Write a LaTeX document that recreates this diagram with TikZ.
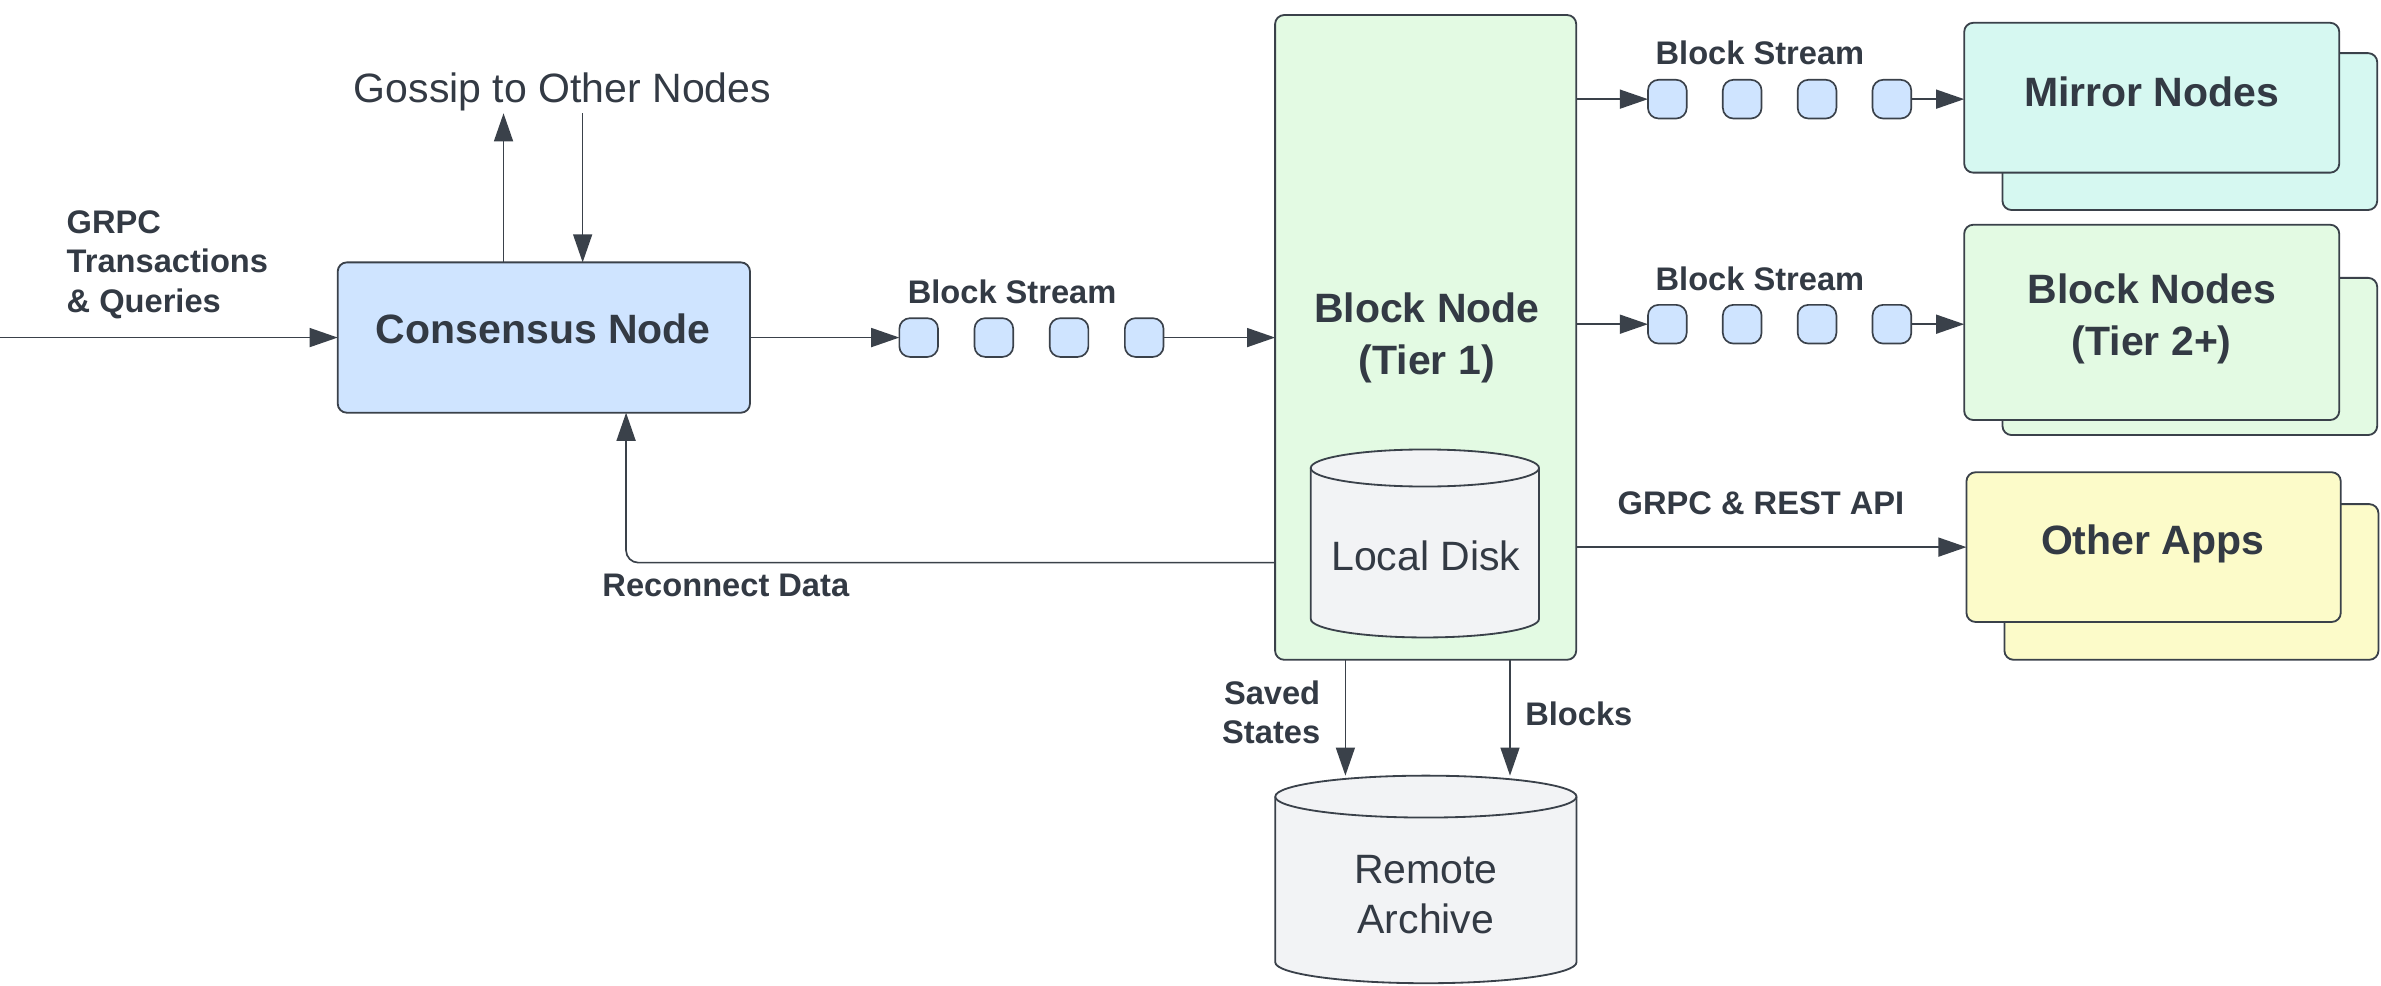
\documentclass[tikz,border=0pt]{standalone}
\usepackage{fontspec}
\setmainfont{Liberation Sans}
\usetikzlibrary{arrows.meta}
\definecolor{ink}{HTML}{3A414A}
\definecolor{txt}{HTML}{333A44}
\definecolor{fblue}{HTML}{CFE4FF}
\definecolor{fgreen}{HTML}{E3FAE3}
\definecolor{fcyan}{HTML}{D6F8F1}
\definecolor{fyellow}{HTML}{FCFBC9}
\definecolor{fgray}{HTML}{F2F3F5}
\begin{document}
\begin{tikzpicture}[x=1pt,y=1pt,
  box/.style={draw=ink, line width=1.2pt, rounded corners=6pt, inner sep=0pt, outer sep=0pt},
  blob/.style={draw=ink, line width=1.1pt, fill=fblue, rounded corners=7pt, minimum width=25.5pt, minimum height=25.5pt, inner sep=0pt, outer sep=0pt},
  arr/.style={draw=ink, line width=1.1pt, -{Triangle[length=18.5pt,width=12.5pt]}},
  cyl/.style={draw=ink, fill=fgray, line width=1.2pt},
  big/.style={text=txt, font=\fontsize{27}{34}\selectfont\bfseries, inner sep=0pt},
  bigr/.style={text=txt, font=\fontsize{27}{33}\selectfont, inner sep=0pt},
  lab/.style={text=txt, font=\fontsize{21.5}{26}\selectfont\bfseries, inner sep=0pt},
  ghost/.style={inner sep=0pt, outer sep=0pt},
]
\useasboundingbox (0,0) rectangle (1568,-649.3);

% main boxes
\node[box, fill=fblue, minimum width=271.5pt, minimum height=99pt] (cn) at (358.15,-222.3) {};
\node[box, fill=fgreen, minimum width=198.3pt, minimum height=424.6pt] (bn) at (938.85,-222.2) {};

% stacked boxes (back then front)
\node[box, fill=fcyan, minimum width=246.8pt, minimum height=103.3pt] (mnb) at (1442.1,-86.65) {};
\node[box, fill=fcyan, minimum width=247pt, minimum height=98.7pt] (mnf) at (1417,-64.35) {};
\node[box, fill=fgreen, minimum width=246.8pt, minimum height=103.5pt] (bnb) at (1442.1,-234.75) {};
\node[box, fill=fgreen, minimum width=247pt, minimum height=128.6pt] (bnf) at (1417,-212.3) {};
\node[box, fill=fyellow, minimum width=246.3pt, minimum height=102.5pt] (oab) at (1443.15,-383.25) {};
\node[box, fill=fyellow, minimum width=246.5pt, minimum height=98.6pt] (oaf) at (1418.25,-360.3) {};

% cylinders
\node[ghost, minimum width=150.3pt, minimum height=123.8pt] (ld) at (938.35,-357.9) {};
\filldraw[cyl] (863.2,-308.2) -- (863.2,-407.6) arc[start angle=180,end angle=360,x radius=75.15pt,y radius=12.2pt] -- (1013.5,-308.2) arc[start angle=0,end angle=180,x radius=75.15pt,y radius=12.2pt] -- cycle;
\draw[cyl, fill=none] (863.2,-308.2) arc[start angle=180,end angle=360,x radius=75.15pt,y radius=12.2pt];

\node[ghost, minimum width=198.4pt, minimum height=136.7pt] (ra) at (939,-579.15) {};
\filldraw[cyl] (839.8,-524.6) -- (839.8,-633.7) arc[start angle=180,end angle=360,x radius=99.2pt,y radius=13.8pt] -- (1038.2,-524.6) arc[start angle=0,end angle=180,x radius=99.2pt,y radius=13.8pt] -- cycle;
\draw[cyl, fill=none] (839.8,-524.6) arc[start angle=180,end angle=360,x radius=99.2pt,y radius=13.8pt];

% stream blobs
\foreach \i/\x in {1/605,2/654.5,3/704,4/753.5}{\node[blob] (s1\i) at (\x,-222.3) {};}
\foreach \i/\x in {1/1098,2/1147.3,3/1196.6,4/1245.9}{\node[blob] (s2\i) at (\x,-65.3) {};}
\foreach \i/\x in {1/1098,2/1147.3,3/1196.6,4/1245.9}{\node[blob] (s3\i) at (\x,-213.5) {};}

% connectors
\coordinate (inL) at (0,-222.3);
\draw[arr] (inL) -- (cn.west);
\coordinate (gu) at (331.6,-74.6);
\coordinate (gd) at (383.7,-74.6);
\draw[arr] (gu |- cn.north) -- (gu);
\draw[arr] (gd) -- (gd |- cn.north);
\draw[arr] (cn.east) -- (s11.west);
\draw[arr] (s14.east) -- (s14.east -| bn.west);
\draw[arr] (s21.west -| bn.east) -- (s21.west);
\draw[arr] (s24.east) -- (s24.east -| mnf.west);
\draw[arr] (s31.west -| bn.east) -- (s31.west);
\draw[arr] (s34.east) -- (s34.east -| bnf.west);
\draw[arr] (oaf.west -| bn.east) -- (oaf.west);
\coordinate (rc) at (412.3,-370.5);
\draw[arr, rounded corners=8pt] (rc -| bn.west) -- (rc) -- (rc |- cn.south);
\coordinate (ssx) at (886,0);
\coordinate (blx) at (994.4,0);
\draw[arr] (ssx |- bn.south) -- (ssx |- ra.north);
\draw[arr] (blx |- bn.south) -- (blx |- ra.north);

% texts
\node[bigr, anchor=base] (gos) at (370.4,-67.6) {Gossip to Other Nodes};
\node[lab, align=left, anchor=west] (grpc) at (43.7,-174.2) {GRPC\\Transactions\\\& Queries};
\node[big, anchor=base] (cnt) at (357.8,-226.1) {Consensus Node};
\node[lab, anchor=base] (bs1) at (666.5,-199.7) {Block Stream};
\node[lab, anchor=base] (bs2) at (1159,-42.8) {Block Stream};
\node[lab, anchor=base] (bs3) at (1159,-191) {Block Stream};
\node[big, align=center] (bnt) at (939.6,-222.4) {Block Node\\(Tier 1)};
\node[big, anchor=base] (mnt) at (1417,-70.3) {Mirror Nodes};
\node[big, align=center] (bnft) at (1417,-210) {Block Nodes\\(Tier 2+)};
\node[big, anchor=base] (oat) at (1417.6,-364.9) {Other Apps};
\node[lab, anchor=base] (api) at (1159.7,-339) {GRPC \& REST API};
\node[bigr, anchor=base] (ldt) at (939,-375.9) {Local Disk};
\node[lab, anchor=base] (rct) at (478,-393) {Reconnect Data};
\node[lab, align=right, anchor=east] (sst) at (869.6,-469.1) {Saved\\States};
\node[lab, anchor=base west] (blt) at (1004.3,-478) {Blocks};
\node[bigr, align=center] (rat) at (939,-589) {Remote\\Archive};
\end{tikzpicture}
\end{document}
